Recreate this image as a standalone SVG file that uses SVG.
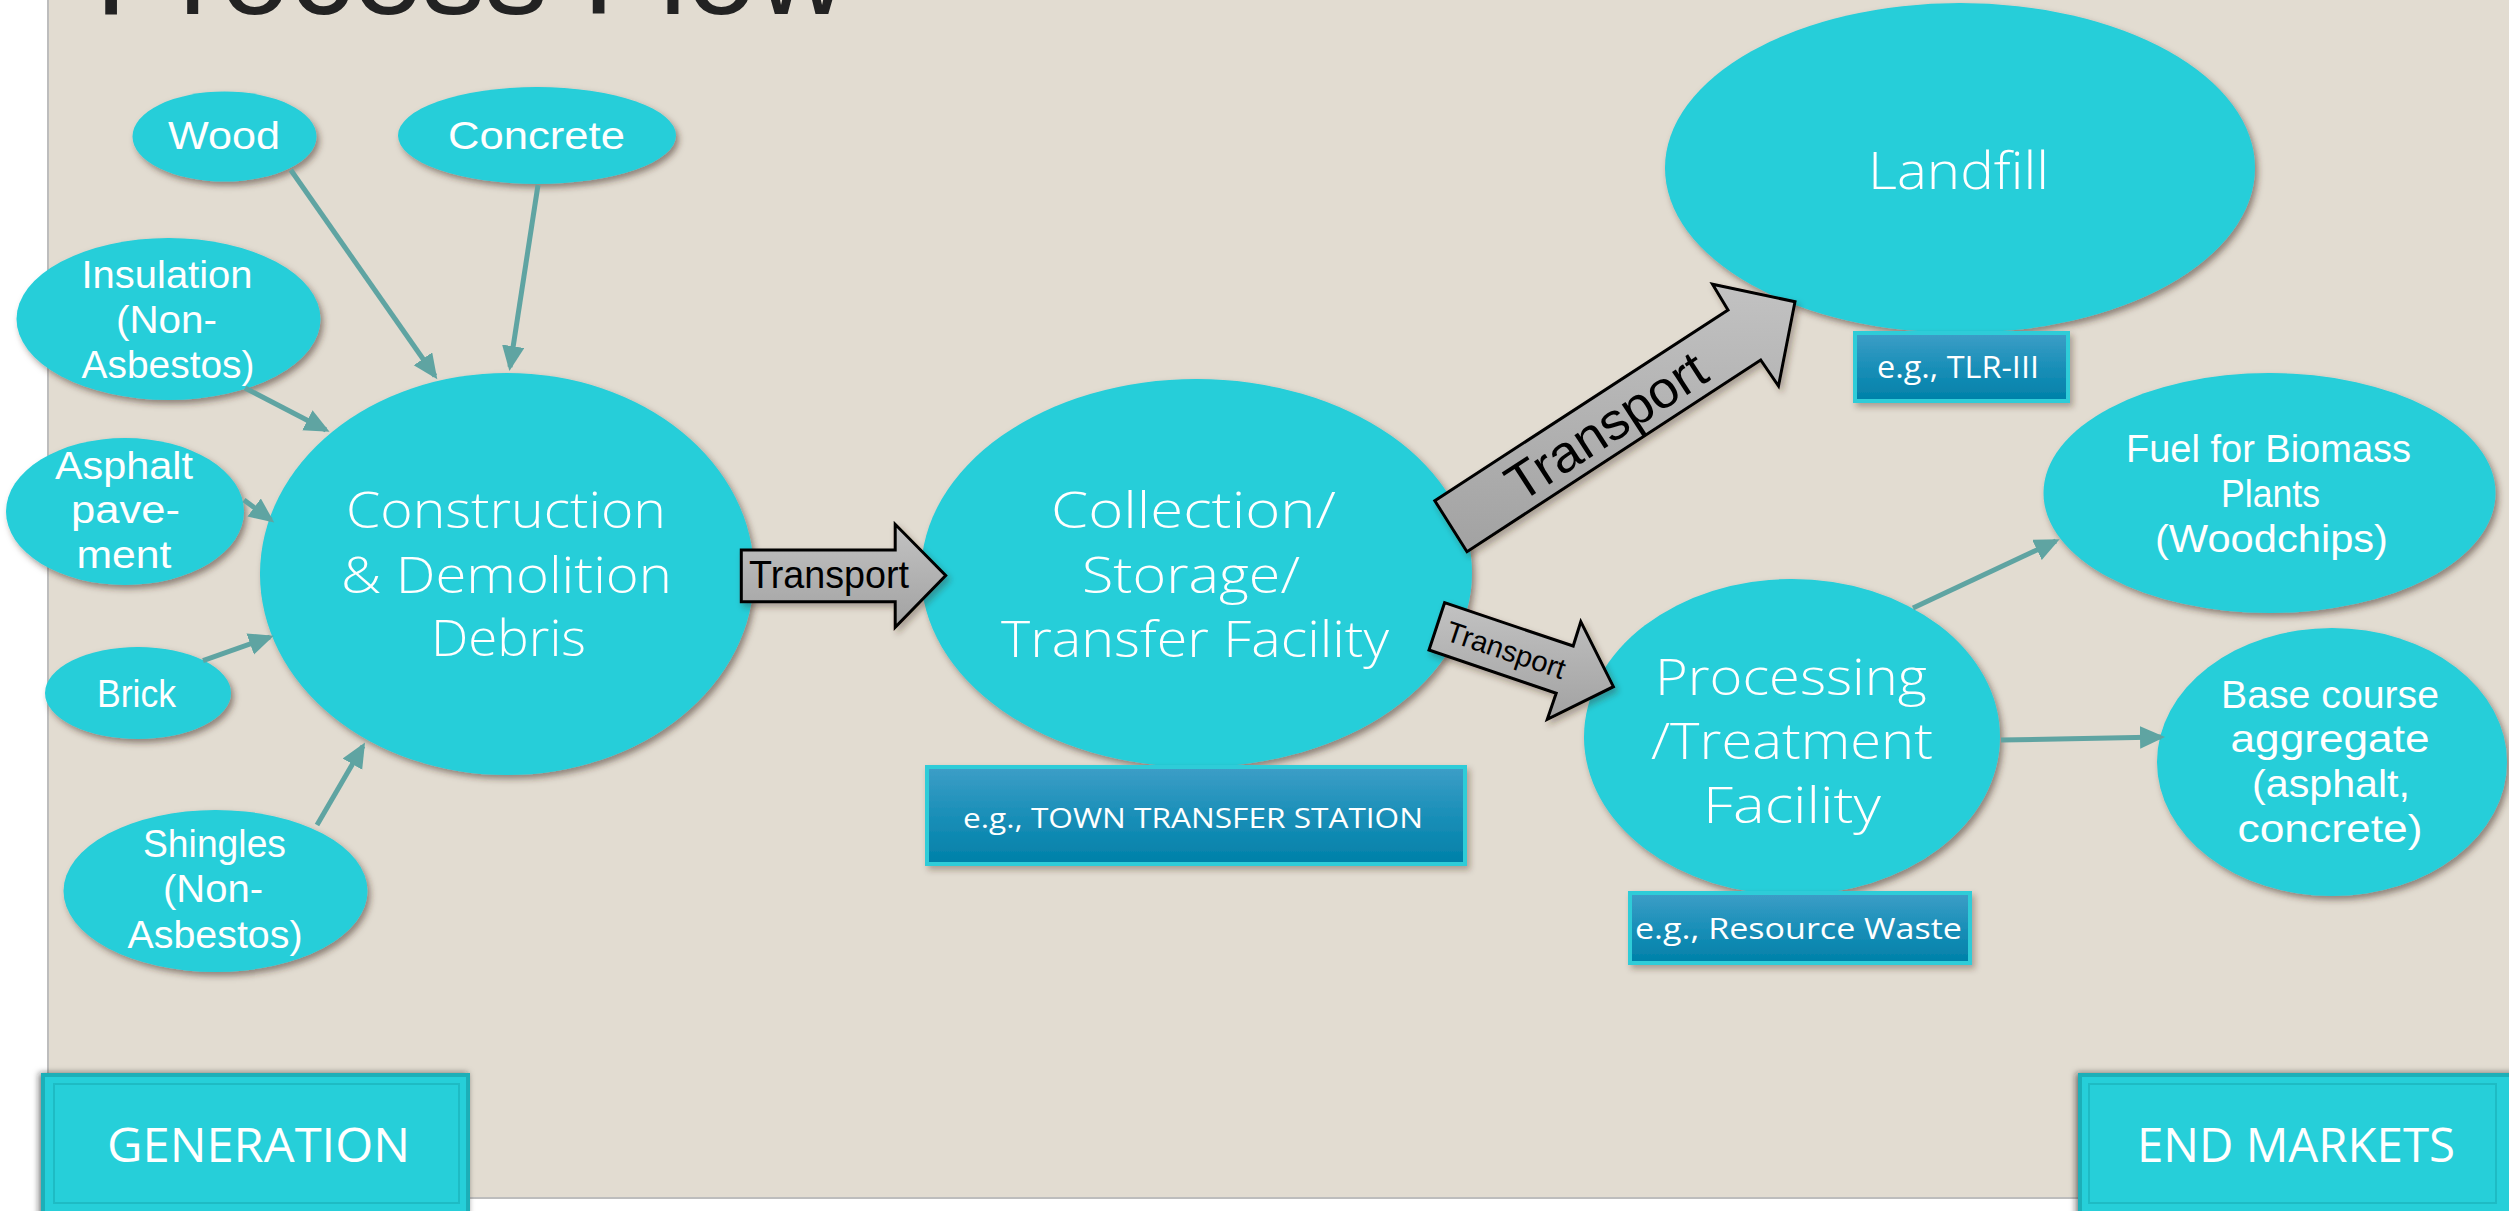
<svg xmlns="http://www.w3.org/2000/svg" width="2509" height="1211" viewBox="0 0 2509 1211">
<style>
.bg{fill:#E2DCD1}
.el{fill:#25CED9;filter:url(#sh)}
.nt{font-family:"Open Sans","Liberation Sans",Arial,sans-serif;font-weight:300;fill:#FFFFFF;text-anchor:middle}
.s38{font-family:"Liberation Sans",Arial,sans-serif;font-weight:400;font-size:38px}
.s50{font-size:50px}
.bx{fill:url(#bg2);stroke:#2FCCD8;stroke-width:4;filter:url(#sh2)}
.bt{font-family:"Open Sans","Liberation Sans",Arial,sans-serif;font-weight:400;fill:#FFFFFF;text-anchor:middle}
.cn{fill:none;stroke:#5FA4A2;stroke-width:5;marker-end:url(#ah)}
.ba{fill:url(#gg);stroke:#000000;stroke-width:3;stroke-linejoin:miter;filter:url(#sh2)}
.at{font-family:"Liberation Sans",Arial,sans-serif;fill:#000000;text-anchor:middle}
.lb{fill:#26CFD9;stroke:#1AAFB8;stroke-width:4;filter:url(#sh3)}
.lbi{fill:none;stroke:#1EBBC4;stroke-width:2}
</style>
<defs>
<filter id="sh" x="-10%" y="-10%" width="125%" height="130%">
<feDropShadow dx="3" dy="4" stdDeviation="3" flood-color="#3a2c20" flood-opacity="0.5"/>
</filter>
<filter id="sh2" x="-10%" y="-10%" width="125%" height="140%">
<feDropShadow dx="3" dy="4" stdDeviation="3" flood-color="#3a2c20" flood-opacity="0.35"/>
</filter>
<filter id="sh3" x="-10%" y="-10%" width="125%" height="140%">
<feDropShadow dx="-2" dy="0" stdDeviation="3" flood-color="#222" flood-opacity="0.6"/>
</filter>
<linearGradient id="bg2" x1="0" y1="0" x2="0" y2="1">
<stop offset="0" stop-color="#3D9EC7"/>
<stop offset="0.5" stop-color="#1A8FB8"/>
<stop offset="1" stop-color="#0080A8"/>
</linearGradient>
<linearGradient id="gg" x1="0" y1="0" x2="0" y2="1">
<stop offset="0" stop-color="#C2C2C2"/>
<stop offset="1" stop-color="#A2A2A2"/>
</linearGradient>
<marker id="ah" markerWidth="6" markerHeight="5" refX="4.2" refY="2.25" orient="auto" markerUnits="strokeWidth">
<path d="M0,0 L5,2.25 L0,4.5 z" fill="#5FA4A2"/>
</marker>
</defs>

<rect x="0" y="0" width="2509" height="1211" fill="#FFFFFF"/>
<rect class="bg" x="48" y="0" width="2461" height="1198"/>
<line x1="48" y1="0" x2="48" y2="1198" stroke="#BDBDBD" stroke-width="2"/>
<line x1="48" y1="1198" x2="2509" y2="1198" stroke="#BDBDBD" stroke-width="2"/>

<text id="title" x="95" y="14" font-family="Liberation Sans,Arial,sans-serif" font-size="125" fill="#222222" textLength="752" lengthAdjust="spacingAndGlyphs">Process Flow</text>

<g id="n-wood"><ellipse class="el" cx="224.5" cy="136.5" rx="92" ry="45"/>
<text class="nt s38" x="224" y="149" textLength="112" lengthAdjust="spacingAndGlyphs">Wood</text></g>

<g id="n-concrete"><ellipse class="el" cx="537" cy="135.5" rx="139" ry="48.5"/>
<text class="nt s38" x="536.5" y="149" textLength="177" lengthAdjust="spacingAndGlyphs">Concrete</text></g>

<g id="n-insulation"><ellipse class="el" cx="168.5" cy="319" rx="152" ry="81"/>
<text class="nt s38" x="167" y="288" textLength="171" lengthAdjust="spacingAndGlyphs">Insulation</text>
<text class="nt s38" x="166.5" y="333" textLength="101" lengthAdjust="spacingAndGlyphs">(Non-</text>
<text class="nt s38" x="168" y="378" textLength="173" lengthAdjust="spacingAndGlyphs">Asbestos)</text></g>

<g id="n-asphalt"><ellipse class="el" cx="125" cy="511.5" rx="119" ry="73.5"/>
<text class="nt s38" x="124" y="479" textLength="138" lengthAdjust="spacingAndGlyphs">Asphalt</text>
<text class="nt s38" x="125.5" y="523" textLength="109" lengthAdjust="spacingAndGlyphs">pave-</text>
<text class="nt s38" x="124" y="568" textLength="95" lengthAdjust="spacingAndGlyphs">ment</text></g>

<g id="n-brick"><ellipse class="el" cx="138" cy="693" rx="93" ry="46"/>
<text class="nt s38" x="136.5" y="707" textLength="79" lengthAdjust="spacingAndGlyphs">Brick</text></g>

<g id="n-shingles"><ellipse class="el" cx="215.5" cy="891" rx="152" ry="81"/>
<text class="nt s38" x="214.5" y="857" textLength="143" lengthAdjust="spacingAndGlyphs">Shingles</text>
<text class="nt s38" x="213" y="902" textLength="100" lengthAdjust="spacingAndGlyphs">(Non-</text>
<text class="nt s38" x="215" y="948" textLength="175" lengthAdjust="spacingAndGlyphs">Asbestos)</text></g>

<g id="n-debris"><ellipse class="el" cx="507" cy="574" rx="247" ry="201"/>
<text class="nt s50" x="506" y="528" textLength="320" lengthAdjust="spacingAndGlyphs">Construction</text>
<text class="nt s50" x="506.5" y="593" textLength="331" lengthAdjust="spacingAndGlyphs">&amp; Demolition</text>
<text class="nt s50" x="508.5" y="656" textLength="155" lengthAdjust="spacingAndGlyphs">Debris</text></g>

<g id="n-collection"><ellipse class="el" cx="1196.5" cy="573" rx="275.5" ry="194"/>
<text class="nt s50" x="1193.5" y="528" textLength="285" lengthAdjust="spacingAndGlyphs">Collection/</text>
<text class="nt s50" x="1191" y="593" textLength="218" lengthAdjust="spacingAndGlyphs">Storage/</text>
<text class="nt s50" x="1195" y="657" textLength="388" lengthAdjust="spacingAndGlyphs">Transfer Facility</text></g>

<g id="n-landfill"><ellipse class="el" cx="1960" cy="168" rx="295" ry="165"/>
<text class="nt" font-size="52" x="1958.5" y="189" textLength="181" lengthAdjust="spacingAndGlyphs">Landfill</text></g>

<g id="n-processing"><ellipse class="el" cx="1792" cy="737" rx="208" ry="158"/>
<text class="nt s50" x="1791" y="695" textLength="272" lengthAdjust="spacingAndGlyphs">Processing</text>
<text class="nt s50" x="1792" y="759" textLength="282" lengthAdjust="spacingAndGlyphs">/Treatment</text>
<text class="nt s50" x="1792" y="823" textLength="178" lengthAdjust="spacingAndGlyphs">Facility</text></g>

<g id="n-fuel"><ellipse class="el" cx="2269.5" cy="493" rx="226" ry="120"/>
<text class="nt s38" x="2268.5" y="462" textLength="285" lengthAdjust="spacingAndGlyphs">Fuel for Biomass</text>
<text class="nt s38" x="2270.5" y="507" textLength="99" lengthAdjust="spacingAndGlyphs">Plants</text>
<text class="nt s38" x="2271.5" y="552" textLength="233" lengthAdjust="spacingAndGlyphs">(Woodchips)</text></g>

<g id="n-base"><ellipse class="el" cx="2332" cy="762" rx="175" ry="134"/>
<text class="nt s38" x="2330" y="708" textLength="218" lengthAdjust="spacingAndGlyphs">Base course</text>
<text class="nt s38" x="2330" y="752" textLength="199" lengthAdjust="spacingAndGlyphs">aggregate</text>
<text class="nt s38" x="2331" y="797" textLength="158" lengthAdjust="spacingAndGlyphs">(asphalt,</text>
<text class="nt s38" x="2330" y="842" textLength="185" lengthAdjust="spacingAndGlyphs">concrete)</text></g>

<g id="connectors">
<line class="cn" x1="290.8" y1="170" x2="435" y2="376"/>
<line class="cn" x1="538" y1="185" x2="510" y2="367"/>
<line class="cn" x1="245" y1="388" x2="326" y2="430"/>
<line class="cn" x1="244" y1="500" x2="271" y2="520"/>
<line class="cn" x1="203" y1="660.7" x2="270" y2="637"/>
<line class="cn" x1="317" y1="825" x2="363" y2="746"/>
<line class="cn" x1="1913" y1="608" x2="2056" y2="541"/>
<line class="cn" x1="2001" y1="740" x2="2161" y2="737"/>
<g id="transport-1">
<polygon class="ba" points="741.3,550 895.2,550 895.2,524.3 945.7,575.5 895.2,627.3 895.2,601.7 741.3,601.7"/>
<text class="at" x="829" y="588" font-size="38" textLength="160" lengthAdjust="spacingAndGlyphs">Transport</text>
</g>
<g id="transport-2">
<polygon class="ba" points="1434.8,500.7 1728,310 1712.5,284.3 1795,301.7 1778.5,386 1760.7,360 1467,551.7"/>
<text class="at" transform="translate(1606,426) rotate(-33)" x="0" y="18" font-size="52" textLength="228" lengthAdjust="spacingAndGlyphs">Transport</text>
</g>
<g id="transport-3">
<polygon class="ba" points="1444.6,602.7 1573.2,646 1580.8,621.7 1613.4,686.7 1547.3,719.3 1556.2,693.3 1429,650"/>
<text class="at" transform="translate(1506,650) rotate(18.6)" x="0" y="10" font-size="29" textLength="124" lengthAdjust="spacingAndGlyphs">Transport</text>
</g>
</g>

<g id="b-town"><rect class="bx" x="927" y="767" width="538" height="97"/>
<text class="bt" x="1193" y="828" font-size="28" textLength="460" lengthAdjust="spacingAndGlyphs">e.g., TOWN TRANSFER STATION</text></g>

<g id="b-tlr"><rect class="bx" x="1855" y="333" width="213" height="68"/>
<text class="bt" x="1958" y="378" font-size="31" textLength="162" lengthAdjust="spacingAndGlyphs">e.g., TLR-III</text></g>

<g id="b-resource"><rect class="bx" x="1630" y="893" width="340" height="70"/>
<text class="bt" x="1798.5" y="939" font-size="30" textLength="327" lengthAdjust="spacingAndGlyphs">e.g., Resource Waste</text></g>

<g id="b-generation"><rect class="lb" x="43" y="1075" width="425" height="145"/>
<rect class="lbi" x="54" y="1084" width="405" height="119"/>
<text class="bt" x="258.5" y="1162" font-size="47" textLength="303" lengthAdjust="spacingAndGlyphs">GENERATION</text></g>

<g id="b-endmarkets"><rect class="lb" x="2080" y="1075" width="440" height="145"/>
<rect class="lbi" x="2089" y="1084" width="407" height="119"/>
<text class="bt" x="2296" y="1162" font-size="47" textLength="318" lengthAdjust="spacingAndGlyphs">END MARKETS</text></g>
</svg>
